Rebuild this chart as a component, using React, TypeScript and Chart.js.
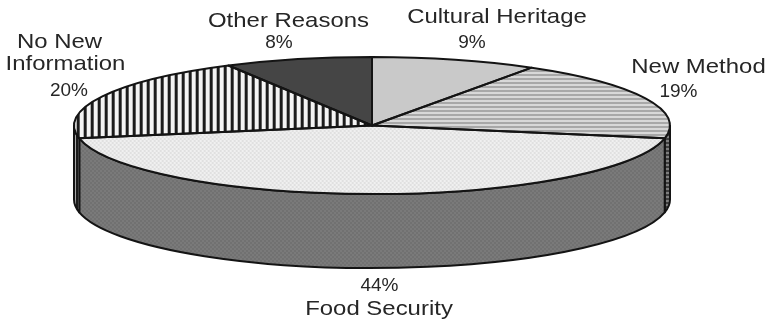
import React, { useEffect, useRef } from "react";
import { Chart, registerables } from "chart.js";

Chart.register(...registerables);

// Share of respondents per reason, clockwise from twelve o'clock.
const reasons = ["Cultural Heritage", "New Method", "Food Security", "No New\nInformation", "Other Reasons"];
const shares = [9, 19, 44, 20, 8];

// Disc proportions: the pie controller lays out a circle of radius 68.5,
// which is stretched sideways into the tilted ellipse.
const CANVAS_W = 768;
const CANVAS_H = 322;
const RADIUS_X = 298;
const LAYOUT_RADIUS = 68.5;
const WALL_DEPTH = 74;
const OUTLINE = "#141414";
const TEXT_COLOR = "#262626";
const NAME_STRETCH = 1.14;

// Label anchors, in reason order: centre x and baselines for each text row.
const labelSpots = [
  { name: [497], nameY: [23], pctX: 472, pctY: 48 },
  { name: [698.5], nameY: [73], pctX: 678.5, pctY: 97 },
  { name: [379], nameY: [315], pctX: 379.5, pctY: 291 },
  { name: [59.5, 65.5], nameY: [48, 70], pctX: 69, pctY: 96 },
  { name: [288.5], nameY: [27], pctX: 279, pctY: 48 },
];

function tile(w: number, h: number, paint: (c: CanvasRenderingContext2D) => void) {
  const cv = document.createElement("canvas");
  cv.width = w;
  cv.height = h;
  paint(cv.getContext("2d")!);
  return cv;
}

function rect(c: CanvasRenderingContext2D, col: string, x: number, y: number, w: number, h: number) {
  c.fillStyle = col;
  c.fillRect(x, y, w, h);
}

function makeFills(ctx: CanvasRenderingContext2D, sx: number) {
  const hLines = (a: string, b: string) =>
    tile(2, 4, (c) => {
      rect(c, a, 0, 0, 2, 4);
      rect(c, b, 0, 2, 2, 2);
    });
  const vLines = (period: number, ink: number, paper: string) =>
    tile(period, 2, (c) => {
      rect(c, paper, 0, 0, period, 2);
      rect(c, "#1c1c1c", 0, 0, ink, 2);
    });
  const dots = (a: string, b: string) =>
    tile(4, 4, (c) => {
      rect(c, a, 0, 0, 4, 4);
      rect(c, b, 0, 0, 2, 2);
      rect(c, b, 2, 2, 2, 2);
    });
  const pat = (src: HTMLCanvasElement, unstretch: boolean) => {
    const p = ctx.createPattern(src, "repeat")!;
    if (unstretch) p.setTransform(new DOMMatrix().scale(1 / sx, 1));
    return p;
  };
  return {
    top: [
      "#c9c9c9",
      pat(hLines("#d8d8d8", "#a8a8a8"), true),
      pat(dots("#f0f0f0", "#e0e0e0"), true),
      pat(vLines(7, 3, "#f4f4f4"), true),
      "#454545",
    ],
    wall: [
      "#8a8a8a",
      pat(hLines("#7e7e7e", "#3e3e3e"), false),
      pat(dots("#7a7a7a", "#717171"), false),
      pat(vLines(4, 2, "#a8a8a8"), false),
      "#2a2a2a",
    ],
  };
}

export default function App() {
  const ref = useRef<HTMLCanvasElement>(null);

  useEffect(() => {
    document.body.style.margin = "0";
    document.body.style.background = "#ffffff";
    const canvas = ref.current!;
    const ctx = canvas.getContext("2d")!;
    const sx = RADIUS_X / LAYOUT_RADIUS;
    const fills = makeFills(ctx, sx);

    const discPlugin = {
      id: "tiltedDisc",
      beforeDatasetsDraw(chart: Chart) {
        const c = chart.ctx;
        const arcs = chart.getDatasetMeta(0).data as any[];
        c.save();
        c.lineWidth = 2;
        c.strokeStyle = OUTLINE;
        c.lineJoin = "round";
        arcs.forEach((arc, i) => {
          const { x, y, startAngle, endAngle, outerRadius } = arc.getProps([
            "x", "y", "startAngle", "endAngle", "outerRadius",
          ]);
          const lo = Math.max(startAngle, 0);
          const hi = Math.min(endAngle, Math.PI);
          if (lo >= hi) return;
          c.beginPath();
          c.ellipse(x, y, outerRadius * sx, outerRadius, 0, lo, hi);
          c.ellipse(x, y + WALL_DEPTH, outerRadius * sx, outerRadius, 0, hi, lo, true);
          c.closePath();
          c.fillStyle = fills.wall[i];
          c.fill();
          c.stroke();
        });
        c.restore();
        // The slices themselves are stretched about the disc centre.
        const { x } = arcs[0].getProps(["x"]);
        c.save();
        c.translate(x, 0);
        c.scale(sx, 1);
        c.translate(-x, 0);
      },
      afterDatasetsDraw(chart: Chart) {
        const c = chart.ctx;
        c.restore();
        const arcs = chart.getDatasetMeta(0).data as any[];
        c.save();
        c.lineWidth = 2;
        c.strokeStyle = OUTLINE;
        c.lineJoin = "round";
        arcs.forEach((arc) => {
          const { x, y, startAngle, endAngle, outerRadius } = arc.getProps([
            "x", "y", "startAngle", "endAngle", "outerRadius",
          ]);
          c.beginPath();
          c.moveTo(x, y);
          c.ellipse(x, y, outerRadius * sx, outerRadius, 0, startAngle, endAngle);
          c.closePath();
          c.stroke();
        });
        c.restore();

        // Reason names (set wide) and percentages around the disc.
        c.save();
        c.fillStyle = TEXT_COLOR;
        c.textAlign = "center";
        c.textBaseline = "alphabetic";
        reasons.forEach((reason, i) => {
          const spot = labelSpots[i];
          c.font = '21px "Liberation Sans", Arial, sans-serif';
          reason.split("\n").forEach((row, r) => {
            c.save();
            c.translate(spot.name[r], spot.nameY[r]);
            c.scale(NAME_STRETCH, 1);
            c.fillText(row, 0, 0);
            c.restore();
          });
          c.font = '19px "Liberation Sans", Arial, sans-serif';
          c.fillText(`${shares[i]}%`, spot.pctX, spot.pctY);
        });
        c.restore();
      },
    };

    const chart = new Chart(canvas, {
      type: "pie",
      data: {
        labels: reasons,
        datasets: [
          {
            data: shares,
            backgroundColor: fills.top as any,
            borderWidth: 0,
            clip: false as any,
          },
        ],
      },
      options: {
        responsive: false,
        maintainAspectRatio: false,
        animation: false,
        events: [],
        layout: { padding: { left: 303.5, right: 327.5, top: 57, bottom: 128 } },
        plugins: { legend: { display: false }, tooltip: { enabled: false } },
      },
      plugins: [discPlugin],
    });
    return () => chart.destroy();
  }, []);

  return <canvas ref={ref} width={CANVAS_W} height={CANVAS_H} style={{ display: "block" }} />;
}
